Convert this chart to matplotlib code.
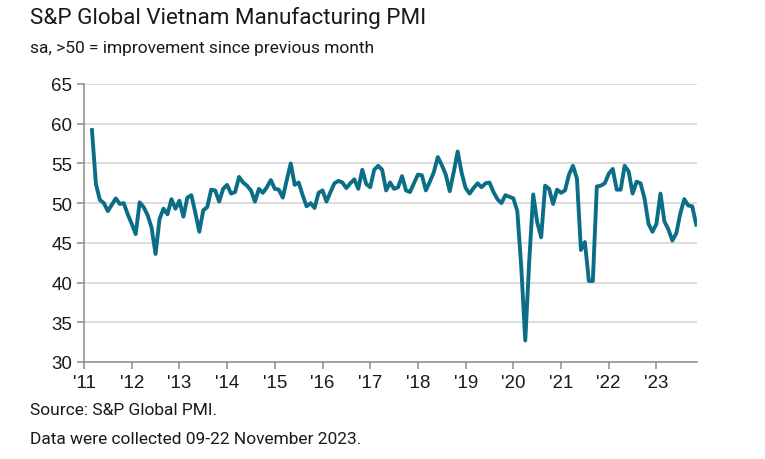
import numpy as np
import matplotlib
matplotlib.use("Agg")
from matplotlib import pyplot as plt

# monthly PMI, Mar 2011 .. Nov 2023
pmi_2011 = [59.2, 52.4, 50.4, 50.0, 49.0, 49.8, 50.6, 49.9, 50.0, 48.6]
pmi_2012 = [47.4, 46.1, 50.1, 49.5, 48.5, 46.9, 43.6, 48.0, 49.3, 48.6, 50.5, 49.3]
pmi_2013 = [50.3, 48.3, 50.7, 51.0, 48.8, 46.4, 49.1, 49.5, 51.7, 51.6, 50.2, 51.8]
pmi_2014 = [52.3, 51.2, 51.4, 53.3, 52.6, 52.2, 51.6, 50.2, 51.8, 51.3, 52.0, 52.9]
pmi_2015 = [51.8, 51.7, 50.7, 52.9, 55.0, 52.3, 52.6, 51.0, 49.6, 50.0, 49.4, 51.3]
pmi_2016 = [51.6, 50.2, 51.4, 52.5, 52.8, 52.6, 51.9, 52.5, 53.0, 51.8, 54.2, 52.4]
pmi_2017 = [52.0, 54.2, 54.7, 54.2, 51.6, 52.6, 51.8, 52.0, 53.4, 51.6, 51.4, 52.5]
pmi_2018 = [53.6, 53.5, 51.6, 52.7, 53.9, 55.8, 54.8, 53.6, 51.5, 53.9, 56.5, 53.8]
pmi_2019 = [51.9, 51.2, 51.9, 52.5, 52.0, 52.5, 52.6, 51.4, 50.5, 50.0, 51.0, 50.8]
pmi_2020 = [50.6, 49.0, 41.9, 32.7, 42.7, 51.1, 47.6, 45.7, 52.2, 51.8, 49.9, 51.7]
pmi_2021 = [51.3, 51.6, 53.6, 54.7, 53.1, 44.1, 45.1, 40.2, 40.2, 52.1, 52.2, 52.5]
pmi_2022 = [53.7, 54.3, 51.7, 51.7, 54.7, 54.0, 51.2, 52.7, 52.5, 50.6, 47.4, 46.4]
pmi_2023 = [47.4, 51.2, 47.7, 46.7, 45.3, 46.2, 48.7, 50.5, 49.7, 49.6, 47.3]

pmi = (pmi_2011 + pmi_2012 + pmi_2013 + pmi_2014 + pmi_2015 + pmi_2016 + pmi_2017
       + pmi_2018 + pmi_2019 + pmi_2020 + pmi_2021 + pmi_2022 + pmi_2023)
months = np.arange(2, 2 + len(pmi))  # months since Jan 2011

years = list(range(2011, 2024))
year_labels = ["'%02d" % (y % 100) for y in years]
y_ticks = [30, 35, 40, 45, 50, 55, 60, 65]

line_col = '#0b6e86'
grid_col = '#d9d9d9'
axis_col = '#8c8c8c'

fig = plt.figure(figsize=(7.65, 4.6), dpi=100)
ax = fig.add_axes([84/765, 1-363/460, (697-84)/765, (363-85)/460])

ax.plot(months, pmi, color=line_col, lw=2.8, solid_joinstyle='round', zorder=3)

ax.set_xlim(0, 154.2)
ax.set_ylim(30, 65)
ax.set_yticks(y_ticks)
ax.set_xticks([(y - 2011) * 12 for y in years])
ax.set_xticklabels(year_labels)
ax.grid(axis='y', color=grid_col, lw=1.3)
ax.set_axisbelow(True)

for s in ['top', 'right']:
    ax.spines[s].set_visible(False)
for s in ['left', 'bottom']:
    ax.spines[s].set_color(axis_col)
    ax.spines[s].set_linewidth(1.1)
ax.tick_params(colors=axis_col, length=5, width=1.1, labelcolor='#1a1a1a',
               labelsize=13.5)
ax.tick_params(axis='x', pad=4)
for t in ax.get_xticklabels() + ax.get_yticklabels():
    t.set_family('Liberation Sans')

fig.text(30/765, 1-18/460, 'S&P Global Vietnam Manufacturing PMI', family='Roboto',
         fontsize=16.1, va='center', ha='left', color='#1a1a1a')
fig.text(30/765, 1-48/460, 'sa, >50 = improvement since previous month', family='Roboto',
         fontsize=12.5, va='center', ha='left', color='#1a1a1a')
fig.text(30/765, 1-411/460, 'Source: S&P Global PMI.', family='Roboto',
         fontsize=12.5, va='center', ha='left', color='#1a1a1a')
fig.text(30/765, 1-440/460, 'Data were collected 09-22 November 2023.', family='Roboto',
         fontsize=12.5, va='center', ha='left', color='#1a1a1a')

fig.savefig('out.png', dpi=100)
